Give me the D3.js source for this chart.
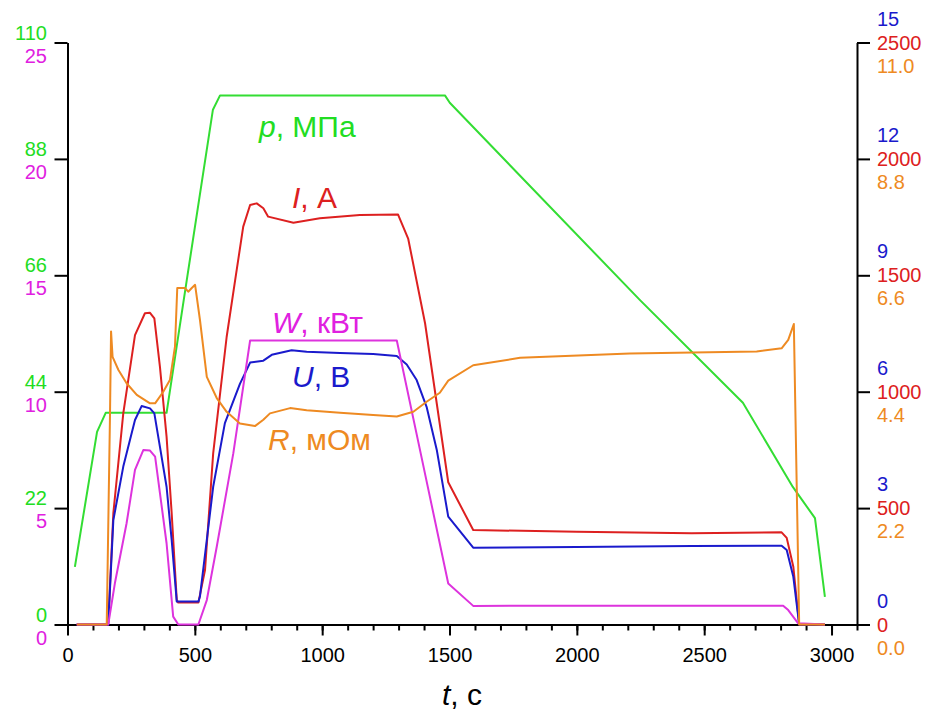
<!DOCTYPE html>
<html>
<head>
<meta charset="utf-8">
<script src="https://cdn.jsdelivr.net/npm/d3@7"></script>
<style>
  body { margin: 0; background: #fff; }
  svg { display: block; font-family: "Liberation Sans", Arial, sans-serif; }
</style>
</head>
<body>
<div id="chart"></div>
<script>
// time axis ticks
const tMajor = [0, 500, 1000, 1500, 2000, 2500, 3000];

// left axis tick labels (pressure and power)
const pTicks = [0, 22, 44, 66, 88, 110];
const wTicks = [0, 5, 10, 15, 20, 25];
// right axis tick labels (voltage, current, resistance)
const uTicks = [0, 3, 6, 9, 12, 15];
const iTicks = [0, 500, 1000, 1500, 2000, 2500];
const rTicks = ["0.0", "2.2", "4.4", "6.6", "8.8", "11.0"];

// series: [t, value]
const pData = [[29, 10.9], [116, 36.4], [150, 40], [389, 40], [468, 65], [571, 97.3], [599, 100],
  [1482, 100], [1501, 98.6], [2248, 61.3], [2652, 41.9], [2848, 26], [2935, 20.1], [2974, 5.2]];

const iData = [[36, 0], [155, 0], [160, 6], [180, 478], [219, 907], [265, 1243], [304, 1337], [324, 1339],
  [341, 1315], [363, 1107], [389, 807], [409, 479], [429, 105], [435, 94], [514, 94], [540, 234],
  [572, 735], [625, 1236], [658, 1477], [690, 1709], [717, 1802], [743, 1809], [769, 1788], [788, 1752],
  [887, 1726], [991, 1745], [1148, 1759], [1298, 1761], [1338, 1656], [1404, 1294], [1495, 611],
  [1593, 406], [2000, 398], [2450, 392], [2804, 396], [2824, 372], [2850, 248], [2873, 0], [2974, 0]];

const uData = [[36, 0], [160, 0], [180, 2.69], [219, 4.07], [265, 5.27], [291, 5.63], [324, 5.57],
  [341, 5.44], [363, 4.58], [389, 3.55], [409, 2.18], [429, 0.59], [514, 0.59], [520, 0.72], [547, 2.18],
  [572, 3.55], [618, 5.19], [677, 6.2], [717, 6.75], [769, 6.8], [802, 6.95], [880, 7.07], [939, 7.03],
  [1070, 7.0], [1200, 6.97], [1293, 6.92], [1332, 6.7], [1371, 6.3], [1410, 5.61], [1450, 4.5],
  [1495, 2.78], [1593, 1.98], [2000, 2.0], [2450, 2.02], [2804, 2.03], [2824, 1.92], [2850, 1.23],
  [2873, 0], [2974, 0]];

const wData = [[36, 0], [160, 0], [186, 1.77], [232, 4.35], [265, 6.64], [298, 7.5], [324, 7.47],
  [344, 7.21], [363, 5.64], [389, 3.49], [415, 0.34], [435, 0], [514, 0], [547, 1.05], [586, 3.34],
  [651, 7.35], [717, 12.2], [1293, 12.2], [1384, 7.5], [1495, 1.76], [1593, 0.8], [2810, 0.81],
  [2830, 0.62], [2869, 0.05], [2974, 0]];

const rData = [[37, 0], [154, 0], [167, 4.0], [171, 5.54], [177, 5.06], [200, 4.81], [232, 4.56],
  [272, 4.34], [324, 4.18], [344, 4.18], [376, 4.40], [402, 4.62], [422, 5.25], [431, 6.36], [461, 6.36],
  [474, 6.29], [488, 6.36], [501, 6.42], [520, 5.76], [547, 4.68], [586, 4.28], [625, 4.02], [677, 3.80],
  [736, 3.75], [769, 3.87], [795, 3.99], [874, 4.09], [939, 4.05], [1070, 4.0], [1200, 3.96], [1293, 3.93],
  [1358, 4.02], [1410, 4.21], [1462, 4.38], [1495, 4.61], [1593, 4.90], [1777, 5.04], [2208, 5.12],
  [2706, 5.16], [2804, 5.22], [2830, 5.38], [2852, 5.68], [2873, 0], [2974, 0]];

const width = 931;
const height = 715;
const margin = { left: 67.5, right: 857, top: 42.5, bottom: 624.5 };

const colors = {
  p: "#33dd33", w: "#dd33dd", u: "#1a1acc", i: "#dd2020", r: "#ee8a22"
};

const svg = d3.select("#chart").append("svg")
  .attr("width", width)
  .attr("height", height);

// scales
const x = d3.scaleLinear().domain([0, 3100]).range([margin.left, margin.right]);
const yP = d3.scaleLinear().domain([0, 110]).range([margin.bottom, margin.top]);
const yW = d3.scaleLinear().domain([0, 25]).range([margin.bottom, margin.top]);
const yU = d3.scaleLinear().domain([0, 15]).range([margin.bottom, margin.top]);
const yI = d3.scaleLinear().domain([0, 2500]).range([margin.bottom, margin.top]);
const yR = d3.scaleLinear().domain([0, 11]).range([margin.bottom, margin.top]);

// axes
const axisStyle = g => {
  g.selectAll("path, line").attr("stroke", "#000").attr("stroke-width", 2);
  g.selectAll("text").remove();
};

svg.append("g")
  .attr("transform", `translate(0,${margin.bottom})`)
  .call(d3.axisBottom(x).tickValues(d3.range(0, 3101, 100)).tickSize(6).tickSizeOuter(0))
  .call(axisStyle);

svg.append("g")
  .attr("transform", `translate(0,${margin.bottom})`)
  .call(d3.axisBottom(x).tickValues(tMajor).tickSize(11).tickSizeOuter(0).tickFormat(d3.format("d")))
  .call(g => {
    g.selectAll("path, line").attr("stroke", "#000").attr("stroke-width", 2);
    g.selectAll("text")
      .attr("y", 23)
      .attr("dy", "0.71em")
      .attr("fill", "#000")
      .style("font-size", "20px")
      .style("font-family", "'Liberation Sans', Arial, sans-serif");
  });

svg.append("g")
  .attr("transform", `translate(${margin.left},0)`)
  .call(d3.axisLeft(yP).tickValues(pTicks).tickSize(13).tickSizeOuter(0))
  .call(axisStyle);

svg.append("g")
  .attr("transform", `translate(${margin.right},0)`)
  .call(d3.axisRight(yI).tickValues(iTicks).tickSize(13).tickSizeOuter(0))
  .call(axisStyle);

// stacked tick labels
const tickFont = "20px";
const leftLabels = svg.append("g").attr("text-anchor", "end").style("font-size", tickFont);
pTicks.forEach((v, k) => {
  leftLabels.append("text").attr("x", 47).attr("y", yP(v) - 3).attr("fill", "#22dd22").text(v);
  leftLabels.append("text").attr("x", 47).attr("y", yW(wTicks[k]) + 20).attr("fill", "#e020e0").text(wTicks[k]);
});

const rightLabels = svg.append("g").attr("text-anchor", "start").style("font-size", tickFont);
iTicks.forEach((v, k) => {
  rightLabels.append("text").attr("x", 877).attr("y", yU(uTicks[k]) - 17).attr("fill", "#1a1acc").text(uTicks[k]);
  rightLabels.append("text").attr("x", 877).attr("y", yI(v) + 7).attr("fill", "#dd2020").text(v);
  rightLabels.append("text").attr("x", 877).attr("y", yI(v) + 30).attr("fill", "#ee8a22").text(rTicks[k]);
});

// lines
const series = [
  { data: pData, y: yP, color: colors.p },
  { data: iData, y: yI, color: colors.i },
  { data: uData, y: yU, color: colors.u },
  { data: wData, y: yW, color: colors.w },
  { data: rData, y: yR, color: colors.r }
];

series.forEach(s => {
  const line = d3.line().x(d => x(d[0])).y(d => s.y(d[1]));
  svg.append("path")
    .datum(s.data)
    .attr("fill", "none")
    .attr("stroke", s.color)
    .attr("stroke-width", 2)
    .attr("stroke-linejoin", "round")
    .attr("d", line);
});

// series names
const names = [
  { sym: "p", rest: ", МПа", x: 259, y: 137, color: "#22dd22" },
  { sym: "I", rest: ", А", x: 292, y: 208, color: "#dd2020" },
  { sym: "W", rest: ", кВт", x: 272, y: 333, color: "#e020e0" },
  { sym: "U", rest: ", В", x: 292, y: 387, color: "#1a1acc" },
  { sym: "R", rest: ", мОм", x: 268, y: 450, color: "#ee8a22" }
];

names.forEach(n => {
  const t = svg.append("text")
    .attr("x", n.x)
    .attr("y", n.y)
    .attr("fill", n.color)
    .style("font-size", "30px");
  t.append("tspan").style("font-style", "italic").text(n.sym);
  t.append("tspan").text(n.rest);
});

// x axis title
const xt = svg.append("text")
  .attr("x", 462)
  .attr("y", 705)
  .attr("text-anchor", "middle")
  .attr("fill", "#000")
  .style("font-size", "30px");
xt.append("tspan").style("font-style", "italic").text("t");
xt.append("tspan").text(", с");
</script>
</body>
</html>
